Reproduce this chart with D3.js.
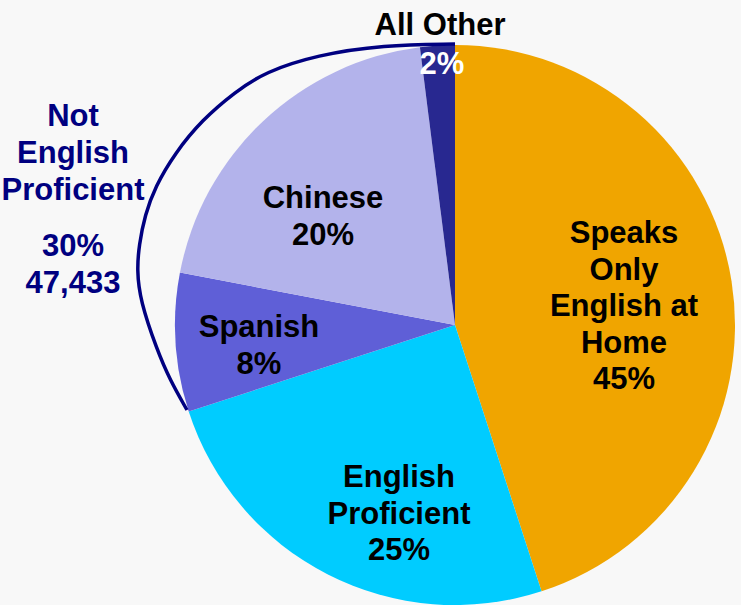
<!DOCTYPE html>
<html>
<head>
<meta charset="utf-8">
<script src="https://cdn.jsdelivr.net/npm/d3@7"></script>
<style>
  html, body { margin: 0; padding: 0; background: #f8f8f8; }
  svg { display: block; }
  .lbl { font-family: "Liberation Sans", Arial, sans-serif; font-weight: bold; font-size: 31px; text-anchor: middle; }
</style>
</head>
<body>
<div id="chart"></div>
<script>
// slices, clockwise from 12 o'clock
var categories = ["Speaks Only English at Home", "English Proficient", "Spanish", "Chinese", "All Other"];
var shares = [45, 25, 8, 20, 2];
// label lines for each slice
var labelLines = [
    ["Speaks", "Only", "English at", "Home", "45%"],
    ["English", "Proficient", "25%"],
    ["Spanish", "8%"],
    ["Chinese", "20%"],
    ["All Other", "2%"]
];
var notProficientLines = ["Not", "English", "Proficient"];
var notProficientValues = ["30%", "47,433"];

var colors = ["#f0a500", "#00ccff", "#5f5fd7", "#b3b3eb", "#282890"];

var svgWidth = 741;
var svgHeight = 605;
var cx = 455, cy = 325, radius = 280;

var svg = d3.select("#chart")
    .append("svg")
    .attr("width", svgWidth)
    .attr("height", svgHeight);

svg.append("rect")
    .attr("width", svgWidth)
    .attr("height", svgHeight)
    .attr("fill", "#f8f8f8");

var pieGroup = svg.append("g")
    .attr("transform", `translate(${cx}, ${cy})`);

var pie = d3.pie().sort(null).value(d => d);
var arc = d3.arc().innerRadius(0).outerRadius(radius);

var arcs = pie(shares);

pieGroup.selectAll("path.slice")
    .data(arcs)
    .enter()
    .append("path")
    .attr("class", "slice")
    .attr("d", arc)
    .attr("fill", (d, i) => colors[i]);

// label anchors (first baseline), offset from pie centre
var labelAnchor = [[169, -82], [-56, 162], [-196, 12], [-132, -117], [-15, -290]];
var lineStep = 36.5;

labelLines.forEach(function(lines, i) {
    var t = pieGroup.append("text")
        .attr("class", "lbl")
        .attr("x", labelAnchor[i][0])
        .attr("y", labelAnchor[i][1]);
    lines.forEach(function(s, j) {
        // the "2%" sits inside the thin slice, in white
        var inSlice = (i === 4 && j === 1);
        t.append("tspan")
            .attr("x", labelAnchor[i][0] + (inSlice ? 2 : 0))
            .attr("y", labelAnchor[i][1] + j * lineStep + (inSlice ? 2 : 0))
            .attr("fill", inSlice ? "#fff" : "#000")
            .text(s);
    });
});

// bracket around the not-proficient slices
var bracketPts = [[0, -281], [-72, -280], [-138, -270], [-190, -253], [-220, -233], [-253, -205],
    [-280, -172], [-300, -138], [-310, -110], [-316, -80], [-318, -55], [-315, -25],
    [-298, 25], [-285, 55], [-268, 85]];

pieGroup.append("path")
    .attr("d", d3.line().curve(d3.curveBasis)(bracketPts))
    .attr("fill", "none")
    .attr("stroke", "#000080")
    .attr("stroke-width", 3.5);

var side = svg.append("text")
    .attr("class", "lbl")
    .attr("fill", "#000080");
notProficientLines.forEach(function(s, j) {
    side.append("tspan").attr("x", 73).attr("y", 126 + j * 37).text(s);
});
notProficientValues.forEach(function(s, j) {
    side.append("tspan").attr("x", 73).attr("y", 256 + j * 37).text(s);
});
</script>
</body>
</html>
